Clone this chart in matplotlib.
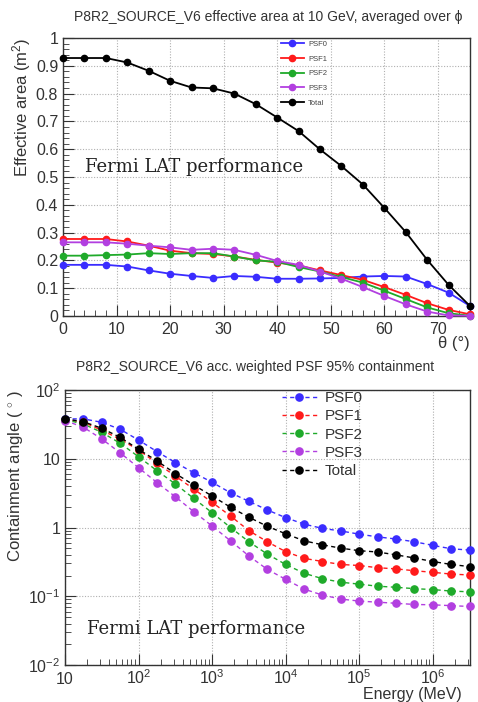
import matplotlib
matplotlib.use("Agg")
import matplotlib.pyplot as plt
from matplotlib.ticker import MultipleLocator, FixedLocator, FixedFormatter, LogLocator, NullFormatter

plt.rcParams['font.family'] = ['Liberation Sans', 'DejaVu Sans']
plt.rcParams['mathtext.fontset'] = 'custom'
plt.rcParams['mathtext.rm'] = 'Liberation Sans'
plt.rcParams['mathtext.it'] = 'Liberation Sans:italic'
plt.rcParams['mathtext.bf'] = 'Liberation Sans:bold'

# ---------------- data: effective area vs theta ----------------
theta = [0, 4, 8, 12, 16, 20, 24, 28, 32, 36, 40, 44, 48, 52, 56, 60, 64, 68, 72, 76]
aeff_psf0 = [0.184, 0.184, 0.184, 0.178, 0.164, 0.152, 0.144, 0.137, 0.144, 0.141,
             0.134, 0.134, 0.135, 0.137, 0.142, 0.144, 0.142, 0.115, 0.084, 0.036]
aeff_psf1 = [0.277, 0.277, 0.277, 0.268, 0.253, 0.235, 0.226, 0.223, 0.214, 0.202,
             0.192, 0.182, 0.164, 0.147, 0.130, 0.104, 0.076, 0.046, 0.022, 0.006]
aeff_psf2 = [0.217, 0.217, 0.219, 0.221, 0.226, 0.223, 0.226, 0.226, 0.214, 0.200,
             0.195, 0.176, 0.160, 0.140, 0.120, 0.091, 0.061, 0.031, 0.010, 0.001]
aeff_psf3 = [0.265, 0.265, 0.265, 0.260, 0.253, 0.247, 0.238, 0.242, 0.238, 0.220,
             0.198, 0.184, 0.160, 0.134, 0.104, 0.072, 0.042, 0.016, 0.002, 0.001]
aeff_total = [0.928, 0.928, 0.928, 0.912, 0.882, 0.846, 0.822, 0.819, 0.800, 0.762,
              0.714, 0.665, 0.599, 0.539, 0.473, 0.389, 0.302, 0.202, 0.112, 0.036]

# ---------------- data: PSF 95% containment vs energy ----------------
energy = [10, 17.8, 31.6, 56.2, 100, 178, 316, 562, 1000, 1778, 3162, 5623, 10000,
          17783, 31623, 56234, 100000, 177828, 316228, 562341, 1000000, 1778279, 3162278]
psf_psf0 = [38, 38, 33.9, 26.8, 18.7, 12.7, 8.8, 6.27, 4.54, 3.2, 2.4, 1.8, 1.39,
            1.12, 0.97, 0.89, 0.80, 0.73, 0.68, 0.62, 0.55, 0.49, 0.47]
psf_psf1 = [37, 34, 26, 19.2, 13.4, 8.6, 5.6, 3.63, 2.32, 1.47, 0.90, 0.62, 0.445,
            0.356, 0.32, 0.29, 0.28, 0.26, 0.25, 0.235, 0.223, 0.21, 0.204]
psf_psf2 = [37, 32, 24.2, 16.8, 10.7, 6.7, 4.3, 2.65, 1.64, 1.0, 0.62, 0.41, 0.29,
            0.216, 0.18, 0.16, 0.15, 0.14, 0.135, 0.129, 0.125, 0.119, 0.116]
psf_psf3 = [36, 28.7, 19.4, 12.2, 7.4, 4.5, 2.8, 1.7, 1.05, 0.64, 0.385, 0.246, 0.176,
            0.127, 0.104, 0.091, 0.085, 0.082, 0.079, 0.076, 0.075, 0.073, 0.071]
psf_total = [38, 34.6, 27.7, 20.5, 13.7, 9.3, 6.1, 4.15, 2.87, 1.97, 1.41, 1.04, 0.81,
             0.64, 0.56, 0.50, 0.46, 0.44, 0.40, 0.36, 0.32, 0.29, 0.27]

labels = ['PSF0', 'PSF1', 'PSF2', 'PSF3', 'Total']
colors = ['#3a2cff', '#ff1a1a', '#1faa2a', '#b23fe0', '#000000']

W, H = 478, 702
fig = plt.figure(figsize=(W / 100, H / 100), dpi=100)

def frac(l, r, t, b):
    return [l / W, 1 - b / H, (r - l) / W, (b - t) / H]

grid_kw = dict(color='#b0b0b0', linestyle=(0, (1, 1.5)), linewidth=0.8)

# ================= top panel =================
ax1 = fig.add_axes(frac(63, 470, 38, 316))
series1 = [aeff_psf0, aeff_psf1, aeff_psf2, aeff_psf3, aeff_total]
for ys, c, lab in zip(series1, colors, labels):
    ax1.plot(theta, ys, '-', color=c, lw=1.3, marker='o', ms=4.5, label=lab,
             clip_on=False, zorder=3)
ax1.set_xlim(0, 76)
ax1.set_ylim(0, 1)
ax1.xaxis.set_major_locator(MultipleLocator(10))
ax1.xaxis.set_minor_locator(MultipleLocator(2))
ax1.yaxis.set_major_locator(MultipleLocator(0.1))
ax1.yaxis.set_minor_locator(MultipleLocator(0.02))
ax1.set_yticks([0, 0.1, 0.2, 0.3, 0.4, 0.5, 0.6, 0.7, 0.8, 0.9, 1.0])
ax1.set_yticklabels(['0', '0.1', '0.2', '0.3', '0.4', '0.5', '0.6', '0.7', '0.8', '0.9', '1'])
ax1.grid(True, which='major', **grid_kw)
ax1.tick_params(which='both', direction='in', top=False, right=False, labelsize=11.5,
                colors='#333333', labelcolor='#333333')
ax1.tick_params(which='major', length=8, width=0.8)
ax1.tick_params(which='minor', length=4, width=0.6)
ax1.tick_params(axis='x', pad=4)
for s in ax1.spines.values():
    s.set_color('#333333')
    s.set_linewidth(1.0)
ax1.set_title('P8R2_SOURCE_V6 effective area at 10 GeV, averaged over ϕ',
              fontsize=10, color='#333333', pad=12, x=0.505)
ax1.set_ylabel('Effective area (m$^{2}$)', fontsize=12, color='#333333', loc='top',
               labelpad=2)
ax1.text(1.0, -0.072, 'θ (°)', transform=ax1.transAxes, ha='right', va='top',
         fontsize=12, color='#333333')
ax1.text(0.054, 0.535, 'Fermi LAT performance', transform=ax1.transAxes,
         fontsize=13, family='DejaVu Serif', color='#222222', va='center')
leg1 = ax1.legend(loc='upper left', bbox_to_anchor=(0.535, 0.99), frameon=False,
                  fontsize=5.5, handlelength=3.0, labelspacing=0.95, borderpad=0,
                  borderaxespad=0, handletextpad=0.6, markerscale=1.0)
for t in leg1.get_texts():
    t.set_color('#444444')

# ================= bottom panel =================
ax2 = fig.add_axes(frac(65, 470, 390, 665))
series2 = [psf_psf0, psf_psf1, psf_psf2, psf_psf3, psf_total]
for ys, c, lab in zip(series2, colors, labels):
    ax2.plot(energy, ys, linestyle=(0, (3, 2.5)), color=c, lw=1.0, marker='o', ms=5.2,
             label=lab, clip_on=False, zorder=3)
ax2.set_xscale('log')
ax2.set_yscale('log')
ax2.set_xlim(10, 3.2e6)
ax2.set_ylim(1e-2, 1e2)
ax2.xaxis.set_major_locator(FixedLocator([1e1, 1e2, 1e3, 1e4, 1e5, 1e6]))
ax2.xaxis.set_major_formatter(FixedFormatter(['10', '$10^{2}$', '$10^{3}$', '$10^{4}$',
                                              '$10^{5}$', '$10^{6}$']))
ax2.yaxis.set_major_locator(FixedLocator([1e-2, 1e-1, 1, 10, 100]))
ax2.yaxis.set_major_formatter(FixedFormatter(['$10^{-2}$', '$10^{-1}$', '1', '10',
                                              '$10^{2}$']))
ax2.xaxis.set_minor_locator(LogLocator(base=10, subs=range(2, 10), numticks=20))
ax2.yaxis.set_minor_locator(LogLocator(base=10, subs=range(2, 10), numticks=20))
ax2.xaxis.set_minor_formatter(NullFormatter())
ax2.yaxis.set_minor_formatter(NullFormatter())
ax2.grid(True, which='major', **grid_kw)
ax2.tick_params(which='both', direction='in', top=False, right=False, labelsize=11.5,
                colors='#333333', labelcolor='#333333')
ax2.tick_params(which='major', length=8, width=0.8)
ax2.tick_params(which='minor', length=4, width=0.6)
ax2.tick_params(axis='x', pad=14)
for lab in ax2.get_xticklabels():
    lab.set_verticalalignment('baseline')
for s in ax2.spines.values():
    s.set_color('#333333')
    s.set_linewidth(1.0)
ax2.set_title('P8R2_SOURCE_V6 acc. weighted PSF 95% containment',
              fontsize=10, color='#333333', pad=14, x=0.47)
ax2.set_ylabel('Containment angle ( $^{\\circ}$ )', fontsize=12, color='#333333',
               loc='top', labelpad=2)
ax2.text(0.98, -0.1345, 'Energy (MeV)', transform=ax2.transAxes, ha='right', va='bottom',
         fontsize=11.5, color='#333333')
ax2.text(0.054, 0.13, 'Fermi LAT performance', transform=ax2.transAxes,
         fontsize=13, family='DejaVu Serif', color='#222222', va='center')
leg2 = ax2.legend(loc='upper left', bbox_to_anchor=(0.535, 0.995), frameon=False,
                  fontsize=11, handlelength=2.3, labelspacing=0.27, borderpad=0,
                  borderaxespad=0, handletextpad=0.5)
for t in leg2.get_texts():
    t.set_color('#333333')

fig.savefig('out.png', dpi=100)
